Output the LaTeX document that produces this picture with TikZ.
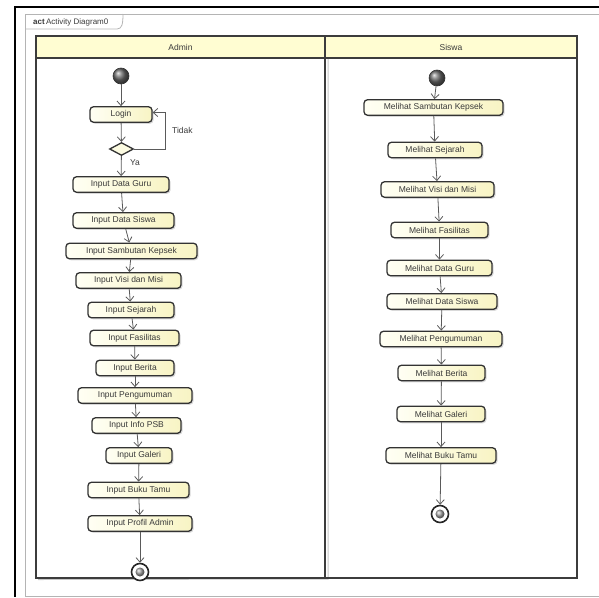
\documentclass[tikz,border=0pt]{standalone}
\usepackage{fontspec}
\setmainfont{Liberation Sans}
\usetikzlibrary{arrows.meta,shapes.geometric,shadows,calc}

\definecolor{boxline}{HTML}{333333}
\definecolor{boxl}{HTML}{FFFFF4}
\definecolor{boxr}{HTML}{F8F4C4}
\definecolor{edgecol}{HTML}{5A5A5A}
\definecolor{lanecol}{HTML}{3C3C3C}
\definecolor{headfill}{HTML}{FFFDD2}
\definecolor{framecol}{HTML}{B4B4B4}
\definecolor{txt}{HTML}{3A3A3A}

\begin{document}
\begin{tikzpicture}[x=1pt,y=-1pt,
  lbl/.style={font=\fontsize{8.5}{10}\selectfont, text=txt, inner sep=0pt},
  act/.style={rectangle, rounded corners=3.5pt, draw=boxline, line width=1.3pt,
    left color=boxl, right color=boxr, minimum height=15.5pt, inner sep=0pt,
    font=\fontsize{8.5}{10}\selectfont, text=txt,
    drop shadow={opacity=0.3, shadow xshift=1.5pt, shadow yshift=-1.5pt}},
  startnode/.style={circle, minimum size=16pt, inner sep=0pt, ball color=gray!85!black,
    draw=gray!40!black, line width=0.6pt},
  endouter/.style={circle, minimum size=17pt, inner sep=0pt, draw=gray!30!black,
    line width=1.6pt, fill=white},
  endinner/.style={circle, minimum size=9pt, inner sep=0pt, ball color=gray!70},
  choice/.style={diamond, draw=boxline, line width=1.3pt, fill=boxl!60!boxr,
    minimum width=24pt, minimum height=13pt, inner sep=0pt, shape aspect=2},
  flow/.style={draw=edgecol, line width=0.8pt, -{Straight Barb[length=4.5pt,width=8pt]}}
]
\useasboundingbox (0,0) rectangle (599,597);

% outer frames
\draw[framecol, line width=0.8pt] (599,14) -- (25,14) -- (25,597);
\draw[framecol, line width=0.8pt] (25,596) -- (599,596);
\draw[black, line width=2pt] (599,7) -- (14.5,7) -- (14.5,597);

% diagram tab
\draw[framecol, line width=0.8pt] (25,29) -- (117,29) .. controls (122,29) and (123,24) .. (123,14);
\node[font=\fontsize{8}{9}\selectfont, text=txt, anchor=west, inner sep=0pt] (tab) at (33,22)
  {\textbf{act}\,Activity Diagram0};

% swimlanes
\fill[headfill] (36,36) rectangle (577,58);
\draw[gray!45, line width=1pt] (328,59) -- (328,579) -- (38,579.5);
\draw[lanecol, line width=1.2pt] (36,36) rectangle (577,578);
\draw[lanecol, line width=1.2pt] (36,58) -- (577,58);
\draw[lanecol, line width=1.2pt] (325,36) -- (325,578);
\node[lbl] (hadmin) at (180.5,47) {Admin};
\node[lbl] (hsiswa) at (451,47) {Siswa};

% Admin lane
\node[startnode] (s1) at (121,76) {};
\node[act, minimum width=62pt] (login) at (121,114.5) {Login};
\node[choice] (dec) at (121.5,149) {};
\node[act, minimum width=96pt] (a1) at (121,184.5) {Input Data Guru};
\node[act, minimum width=101pt] (a2) at (123.5,220.5) {Input Data Siswa};
\node[act, minimum width=131pt] (a3) at (131.5,251) {Input Sambutan Kepsek};
\node[act, minimum width=105pt] (a4) at (128.5,280.5) {Input Visi dan Misi};
\node[act, minimum width=86pt] (a5) at (131,310) {Input Sejarah};
\node[act, minimum width=89pt] (a6) at (134.5,338) {Input Fasilitas};
\node[act, minimum width=78pt] (a7) at (135,368) {Input Berita};
\node[act, minimum width=114pt] (a8) at (135,395.5) {Input Pengumuman};
\node[act, minimum width=89pt] (a9) at (136.5,425.5) {Input Info PSB};
\node[act, minimum width=66pt] (a10) at (139,455.5) {Input Galeri};
\node[act, minimum width=101pt] (a11) at (138.5,490) {Input Buku Tamu};
\node[act, minimum width=104pt] (a12) at (140,523.5) {Input Profil Admin};
\node[endouter] (e1) at (140,572) {};
\node[endinner] (e1in) at (140,572) {};

\draw[flow] (s1) -- (login);
\draw[flow] (login) -- (dec);
\draw[flow] (dec.east) -- ++(31,0) coordinate (loopc) |- ($(login.east)+(0,-2)$);
\node[lbl, anchor=west] (tidak) at (172,130) {Tidak};
\draw[flow] (dec) -- (a1);
\node[lbl, anchor=west] (ya) at (130,163) {Ya};
\foreach \p/\q in {a1/a2,a2/a3,a3/a4,a4/a5,a5/a6,a6/a7,a7/a8,a8/a9,a9/a10,a10/a11,a11/a12}
  \draw[flow] (\p) -- (\q);
\draw[flow] (a12) -- (e1);

% Siswa lane
\node[startnode] (s2) at (437,78) {};
\node[act, minimum width=139pt] (b1) at (433.5,107.5) {Melihat Sambutan Kepsek};
\node[act, minimum width=94pt] (b2) at (435,150) {Melihat Sejarah};
\node[act, minimum width=113pt] (b3) at (437.5,189.5) {Melihat Visi dan Misi};
\node[act, minimum width=97pt] (b4) at (439.5,230) {Melihat Fasilitas};
\node[act, minimum width=105pt] (b5) at (439.5,268) {Melihat Data Guru};
\node[act, minimum width=110pt] (b6) at (442,301.5) {Melihat Data Siswa};
\node[act, minimum width=122pt] (b7) at (441,339) {Melihat Pengumuman};
\node[act, minimum width=87pt] (b8) at (441.5,373) {Melihat Berita};
\node[act, minimum width=88pt] (b9) at (441,414) {Melihat Galeri};
\node[act, minimum width=110pt] (b10) at (441,455.5) {Melihat Buku Tamu};
\node[endouter] (e2) at (440,514) {};
\node[endinner] (e2in) at (440,514) {};

\draw[flow] (s2) -- (b1);
\foreach \p/\q in {b1/b2,b2/b3,b3/b4,b4/b5,b5/b6,b6/b7,b7/b8,b8/b9,b9/b10}
  \draw[flow] (\p) -- (\q);
\draw[flow] (b10) -- (e2);

\end{tikzpicture}
\end{document}
